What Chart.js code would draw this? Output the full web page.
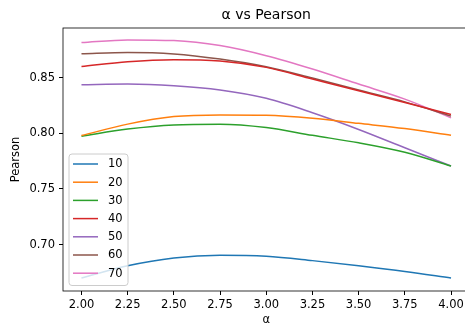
<!DOCTYPE html>
<html>
<head>
<meta charset="utf-8">
<script src="https://cdn.jsdelivr.net/npm/chart.js@4"></script>
<style>
    html, body { margin: 0; padding: 0; background: #fff; overflow: hidden; }
    #chart { display: block; }
</style>
</head>
<body>
<canvas id="chart" width="480" height="328"></canvas>
<script>
// 数据：α 取值与各组 Pearson 曲线
const alphas = [2.0, 2.25, 2.5, 2.75, 3.0, 3.25, 3.5, 3.75, 4.0];
const seriesLabels = ['10', '20', '30', '40', '50', '60', '70'];
const s10 = [0.6700, 0.6810, 0.6880, 0.6904, 0.6895, 0.6856, 0.6810, 0.6759, 0.6699];
const s20 = [0.7980, 0.8083, 0.8151, 0.8166, 0.8163, 0.8136, 0.8090, 0.8043, 0.7983];
const s30 = [0.7975, 0.8039, 0.8076, 0.8082, 0.8052, 0.7982, 0.7915, 0.7830, 0.7706];
const s40 = [0.8600, 0.8644, 0.8662, 0.8650, 0.8593, 0.8488, 0.8383, 0.8277, 0.8170];
const s50 = [0.8437, 0.8443, 0.8428, 0.8390, 0.8315, 0.8185, 0.8035, 0.7870, 0.7706];
const s60 = [0.8716, 0.8727, 0.8714, 0.8668, 0.8599, 0.8497, 0.8389, 0.8283, 0.8155];
const s70 = [0.8816, 0.8840, 0.8834, 0.8789, 0.8698, 0.8578, 0.8443, 0.8308, 0.8140];
const xTicks = [2.0, 2.25, 2.5, 2.75, 3.0, 3.25, 3.5, 3.75, 4.0];
const yTicks = [0.70, 0.75, 0.80, 0.85];

const colors = ['#1f77b4', '#ff7f0e', '#2ca02c', '#d62728', '#9467bd', '#8c564b', '#e377c2'];
const allSeries = [s10, s20, s30, s40, s50, s60, s70];
const FONT = 'DejaVu Sans';

const datasets = allSeries.map((vals, i) => ({
    label: seriesLabels[i],
    data: vals.map((v, j) => ({ x: alphas[j], y: v })),
    borderColor: colors[i],
    backgroundColor: colors[i],
    borderWidth: 1.5,
    pointRadius: 0,
    cubicInterpolationMode: 'monotone',
    fill: false
}));

// 标题、边框和图例（画在绘图区内）
const framePlugin = {
    id: 'frame',
    afterDatasetsDraw(chart) {
        const { ctx, chartArea: a } = chart;
        ctx.save();
        // 边框
        ctx.strokeStyle = '#000';
        ctx.lineWidth = 0.8;
        ctx.strokeRect(a.left, a.top, a.right - a.left, a.bottom - a.top);
        // 标题
        ctx.fillStyle = '#000';
        ctx.font = '14px "' + FONT + '"';
        ctx.textAlign = 'center';
        ctx.textBaseline = 'middle';
        ctx.fillText('α vs Pearson', (a.left + a.right) / 2, 15);
        // 图例
        const bx = a.left + 6, bw = 59, bh = 131.5;
        const by = a.bottom - 5.5 - bh;
        ctx.fillStyle = 'rgba(255,255,255,0.8)';
        ctx.strokeStyle = '#cccccc';
        ctx.lineWidth = 1;
        ctx.beginPath();
        ctx.roundRect(bx, by, bw, bh, 3);
        ctx.fill();
        ctx.stroke();
        ctx.font = '11.5px "' + FONT + '"';
        ctx.textAlign = 'left';
        seriesLabels.forEach((lab, i) => {
            const y = by + 10 + i * 18.2;
            ctx.strokeStyle = colors[i];
            ctx.lineWidth = 1.5;
            ctx.beginPath();
            ctx.moveTo(bx + 4, y);
            ctx.lineTo(bx + 29, y);
            ctx.stroke();
            ctx.fillStyle = '#000';
            ctx.fillText(lab, bx + 39, y + 0.5);
        });
        ctx.restore();
    }
};

new Chart(document.getElementById('chart'), {
    type: 'line',
    data: { datasets: datasets },
    options: {
        responsive: false,
        devicePixelRatio: 1,
        animation: false,
        layout: { padding: { left: 0, right: 10.5, top: 28, bottom: 0 } },
        plugins: {
            legend: { display: false },
            title: { display: false },
            tooltip: { enabled: false }
        },
        scales: {
            x: {
                type: 'linear',
                min: 1.9,
                max: 4.1,
                afterBuildTicks: (scale) => { scale.ticks = xTicks.map(v => ({ value: v })); },
                afterFit: (scale) => { scale.height = 37; },
                ticks: {
                    color: '#000',
                    font: { family: FONT, size: 11.5 },
                    padding: 3,
                    maxRotation: 0,
                    callback: (v) => v.toFixed(2)
                },
                grid: { drawOnChartArea: false, tickLength: 4, color: '#000' },
                border: { display: false },
                title: {
                    display: true,
                    text: 'α',
                    color: '#000',
                    font: { family: FONT, size: 11.5 },
                    padding: { top: 0, bottom: 1 }
                }
            },
            y: {
                type: 'linear',
                min: 0.6583,
                max: 0.8947,
                afterBuildTicks: (scale) => { scale.ticks = yTicks.map(v => ({ value: v })); },
                afterFit: (scale) => { scale.width = 63; },
                ticks: {
                    color: '#000',
                    font: { family: FONT, size: 11.5 },
                    padding: 4,
                    callback: (v) => v.toFixed(2)
                },
                grid: { drawOnChartArea: false, tickLength: 4, color: '#000' },
                border: { display: false },
                title: {
                    display: true,
                    text: 'Pearson',
                    color: '#000',
                    font: { family: FONT, size: 11.5 },
                    padding: { top: 9, bottom: 0 }
                }
            }
        }
    },
    plugins: [framePlugin]
});
</script>
</body>
</html>
